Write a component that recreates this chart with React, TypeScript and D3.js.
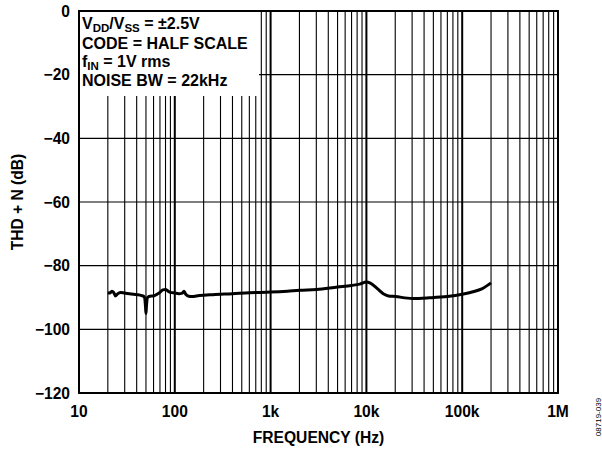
import React, { useEffect, useRef } from 'react';
import * as d3 from 'd3';

// THD + N vs frequency
const freqHz = [
  20, 21, 22, 23, 24, 25, 27, 30, 35, 40, 45, 48, 49.5, 50, 50.5, 52, 55, 60, 65,
  70, 75, 80, 85, 90, 100, 110, 120, 125, 130, 140, 150, 180, 250, 400, 600, 1000,
  1500, 2000, 3000, 5000, 7000, 8500, 10000, 11000, 13000, 15000, 17000, 20000,
  30000, 45000, 70000, 100000, 130000, 160000, 200000
];
const thdDb = [
  -88.5, -88.6, -88.0, -88.4, -89.5, -89.0, -88.4, -88.6, -88.9, -89.1, -89.4, -89.8,
  -93.0, -95.0, -93.0, -90.0, -89.6, -89.5, -89.0, -88.4, -87.6, -87.5, -88.0, -88.4,
  -88.6, -88.8, -88.6, -88.0, -89.0, -89.6, -89.7, -89.4, -89.1, -88.8, -88.5, -88.3,
  -88.0, -87.7, -87.5, -86.7, -86.2, -85.8, -85.1, -85.5, -87.2, -88.8, -89.5, -89.7,
  -90.3, -90.1, -89.7, -89.0, -88.2, -87.3, -85.4
];

const xTicks = [10, 100, 1000, 10000, 100000, 1000000];
const xTickLabels = ['10', '100', '1k', '10k', '100k', '1M'];
const yTicks = [0, -20, -40, -60, -80, -100, -120];

const legendLines = [
  [['V', ''], ['DD', 'sub'], ['/V', ''], ['SS', 'sub'], [' = ±2.5V', '']],
  [['CODE = HALF SCALE', '']],
  [['f', ''], ['IN', 'sub'], [' = 1V rms', '']],
  [['NOISE BW = 22kHz', '']]
];

const W = 602;
const H = 449;
const margin = { top: 11, right: 44, bottom: 56, left: 79 };
const FONT = '"Liberation Sans", Arial, Helvetica, sans-serif';

export default function App() {
  const svgRef = useRef<SVGSVGElement>(null);

  useEffect(() => {
    if (!svgRef.current) return;
    const svg = d3.select(svgRef.current);
    svg.selectAll('*').remove();

    const innerW = W - margin.left - margin.right;
    const innerH = H - margin.top - margin.bottom;

    const x = d3.scaleLog().domain([10, 1e6]).range([margin.left, margin.left + innerW]);
    const y = d3.scaleLinear().domain([-120, 0]).range([margin.top + innerH, margin.top]);

    const g = svg.append('g');

    // minor vertical grid (2..9 per decade)
    const minor: number[] = [];
    for (let d = 10; d < 1e6; d *= 10) {
      for (let m = 2; m <= 9; m++) minor.push(d * m);
    }
    g.selectAll('.minor')
      .data(minor)
      .enter()
      .append('line')
      .attr('x1', d => x(d))
      .attr('x2', d => x(d))
      .attr('y1', y(0))
      .attr('y2', y(-120))
      .attr('stroke', '#000')
      .attr('stroke-width', 1.1);

    // decade lines
    g.selectAll('.major')
      .data(xTicks.slice(1, -1))
      .enter()
      .append('line')
      .attr('x1', d => x(d))
      .attr('x2', d => x(d))
      .attr('y1', y(0))
      .attr('y2', y(-120))
      .attr('stroke', '#000')
      .attr('stroke-width', 2);

    // horizontal grid
    g.selectAll('.hgrid')
      .data(yTicks.slice(1, -1))
      .enter()
      .append('line')
      .attr('x1', x(10))
      .attr('x2', x(1e6))
      .attr('y1', d => y(d))
      .attr('y2', d => y(d))
      .attr('stroke', '#000')
      .attr('stroke-width', 1.1);

    // legend box
    g.append('rect')
      .attr('x', x(10))
      .attr('y', y(0))
      .attr('width', 180)
      .attr('height', 85)
      .attr('fill', '#fff');

    const legend = g.append('g')
      .attr('font-family', FONT)
      .attr('font-weight', 'bold')
      .attr('font-size', 16);
    const baselines = [29, 48.5, 67, 86];
    legendLines.forEach((parts, i) => {
      const t = legend.append('text').attr('x', 82).attr('y', baselines[i]);
      parts.forEach(([s, kind], j) => {
        const sp = t.append('tspan').text(s);
        if (kind === 'sub') sp.attr('font-size', 11.5).attr('dy', 3);
        else if (j > 0) sp.attr('dy', -3);
      });
    });

    // data line
    const pts = freqHz.map((f, i) => [f, thdDb[i]] as [number, number]);
    const line = d3.line<[number, number]>()
      .x(d => x(d[0]))
      .y(d => y(d[1]))
      .curve(d3.curveMonotoneX);
    g.append('path')
      .datum(pts)
      .attr('d', line)
      .attr('fill', 'none')
      .attr('stroke', '#000')
      .attr('stroke-width', 3)
      .attr('stroke-linejoin', 'round');

    // frame
    g.append('rect')
      .attr('x', x(10))
      .attr('y', y(0))
      .attr('width', innerW)
      .attr('height', innerH)
      .attr('fill', 'none')
      .attr('stroke', '#000')
      .attr('stroke-width', 2);

    const labels = svg.append('g')
      .attr('font-family', FONT)
      .attr('font-weight', 'bold')
      .attr('font-size', 15.6)
      .attr('fill', '#000');

    labels.selectAll('.yt')
      .data(yTicks)
      .enter()
      .append('text')
      .attr('x', 70)
      .attr('y', d => y(d) + 5.6)
      .attr('text-anchor', 'end')
      .text(d => (d < 0 ? '\u2212' + Math.abs(d) : String(d)));

    labels.selectAll('.xt')
      .data(xTicks)
      .enter()
      .append('text')
      .attr('x', d => x(d))
      .attr('y', 417)
      .attr('text-anchor', 'middle')
      .text((d, i) => xTickLabels[i]);

    labels.append('text')
      .attr('x', x(10) + innerW / 2)
      .attr('y', 443)
      .attr('text-anchor', 'middle')
      .text('FREQUENCY (Hz)');

    labels.append('text')
      .attr('transform', `translate(22.5,${margin.top + innerH / 2}) rotate(-90)`)
      .attr('text-anchor', 'middle')
      .text('THD + N (dB)');

    svg.append('text')
      .attr('transform', 'translate(601,417) rotate(-90)')
      .attr('text-anchor', 'middle')
      .attr('font-family', FONT)
      .attr('font-size', 8)
      .attr('fill', '#000')
      .text('08719-039');
  }, []);

  return (
    <svg
      ref={svgRef}
      width={W}
      height={H}
      style={{ position: 'absolute', left: 0, top: 0, background: '#fff' }}
    />
  );
}
